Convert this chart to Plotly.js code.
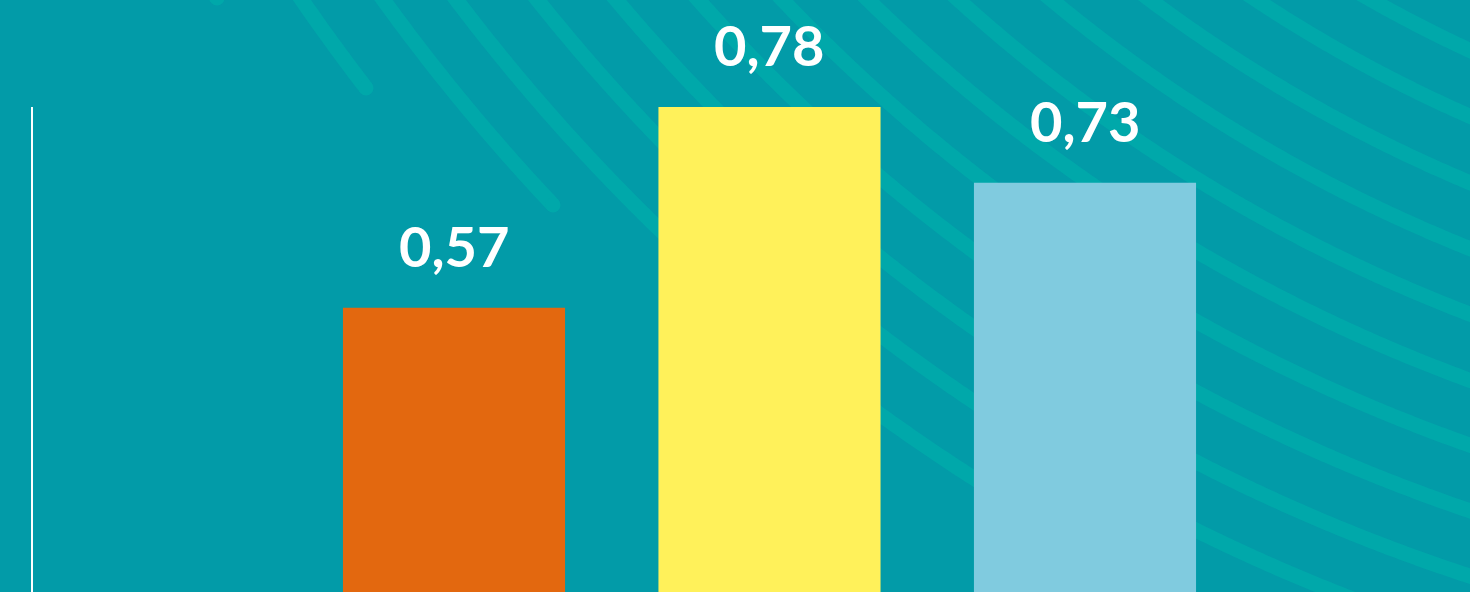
<!DOCTYPE html>
<html>
<head>
<meta charset="utf-8">
<script src="https://cdn.plot.ly/plotly-3.0.1.min.js"></script>
<style>
  html, body { margin: 0; padding: 0; background: #029BA8; }
  #chart { width: 1470px; height: 592px; }
</style>
</head>
<body>
<div id="chart"></div>
<script>
// ---- data ----
const categories = ['A', 'B', 'C'];
// values printed above the bars
const valueLabels = [0.57, 0.78, 0.73];
// bar heights as drawn in the picture (the artwork is not drawn to the scale of its labels)
const barHeights = [0.457, 0.78, 0.658];

// ---- styles ----
const barColors = ['#E3680F', '#FFF15A', '#80CBDF'];
const bgColor = '#029BA8';
const arcColor = '#00A8AA';

// ---- figure geometry ----
const W = 1470, H = 592;
const M = { l: 33, r: 0, t: 107, b: 0 };
const plotW = W - M.l - M.r, plotH = H - M.t - M.b;
const toPaperX = px => (px - M.l) / plotW;
const toPaperY = py => (H - M.b - py) / plotH;

// ---- decorative background arcs (concentric circles, centre off-canvas top-right) ----
const arcCentre = { x: 2053, y: -1208 };
const fullArcRadii = [1387, 1447, 1508, 1569, 1630, 1692, 1753, 1815, 1877, 1938, 2002];
const cutArcEnds = [[553, 205], [366, 88], [217, -2]]; // arcs that stop with a round cap
const arcWidth = 15;

const shapes = [];
function arcPath(r, stopAt) {
  const cx = arcCentre.x, cy = arcCentre.y;
  let phi = Math.PI - Math.asin(Math.min(1, (-30 - cy) / r));
  const phiStop = stopAt != null ? stopAt : -1;
  const step = 0.002;
  let d = '';
  let first = true;
  while (phi > phiStop) {
    const px = cx + r * Math.cos(phi), py = cy + r * Math.sin(phi);
    d += (first ? 'M' : 'L') + toPaperX(px).toFixed(5) + ',' + toPaperY(py).toFixed(5);
    first = false;
    if (px > W + 30 || py > H + 30) break;
    phi -= step;
  }
  if (stopAt != null) {
    const px = cx + r * Math.cos(stopAt), py = cy + r * Math.sin(stopAt);
    d += 'L' + toPaperX(px).toFixed(5) + ',' + toPaperY(py).toFixed(5);
  }
  return d;
}
fullArcRadii.forEach(r => {
  shapes.push({ type: 'path', xref: 'paper', yref: 'paper', layer: 'below',
    path: arcPath(r, null), line: { color: arcColor, width: arcWidth } });
});
cutArcEnds.forEach(([ex, ey]) => {
  const dx = ex - arcCentre.x, dy = ey - arcCentre.y;
  const r = Math.hypot(dx, dy);
  const phiEnd = Math.atan2(dy, dx);
  shapes.push({ type: 'path', xref: 'paper', yref: 'paper', layer: 'below',
    path: arcPath(r, phiEnd), line: { color: arcColor, width: arcWidth } });
  const h = arcWidth / 2;
  shapes.push({ type: 'circle', xref: 'paper', yref: 'paper', layer: 'below',
    x0: toPaperX(ex - h), x1: toPaperX(ex + h), y0: toPaperY(ey + h), y1: toPaperY(ey - h),
    fillcolor: arcColor, line: { width: 0 } });
});

const fmt = v => v.toFixed(2).replace('.', ',');

const trace = {
  type: 'bar',
  x: categories,
  y: barHeights,
  marker: { color: barColors, line: { width: 0 } },
  hoverinfo: 'skip'
};

const annotations = categories.map((c, i) => ({
  x: c, y: barHeights[i], xref: 'x', yref: 'y',
  text: fmt(valueLabels[i]), showarrow: false,
  xanchor: 'center', yanchor: 'bottom', yshift: 27,
  font: { family: 'Lato, "Open Sans", sans-serif', size: 56, color: '#FFFFFF', weight: 700 }
}));

const layout = {
  width: W, height: H,
  margin: { l: M.l, r: M.r, t: M.t, b: M.b, pad: 0 },
  paper_bgcolor: bgColor,
  plot_bgcolor: bgColor,
  showlegend: false,
  bargap: 0.296,
  xaxis: {
    type: 'category', range: [-1.3344, 3.2203],
    showticklabels: false, showgrid: false, zeroline: false, showline: false, ticks: ''
  },
  yaxis: {
    range: [0, 0.78],
    showline: true, linecolor: '#FFFFFF', linewidth: 2,
    showgrid: false, zeroline: false, showticklabels: false, ticks: ''
  },
  shapes: shapes,
  annotations: annotations
};

Plotly.newPlot('chart', [trace], layout, { staticPlot: true, displayModeBar: false });
</script>
</body>
</html>
